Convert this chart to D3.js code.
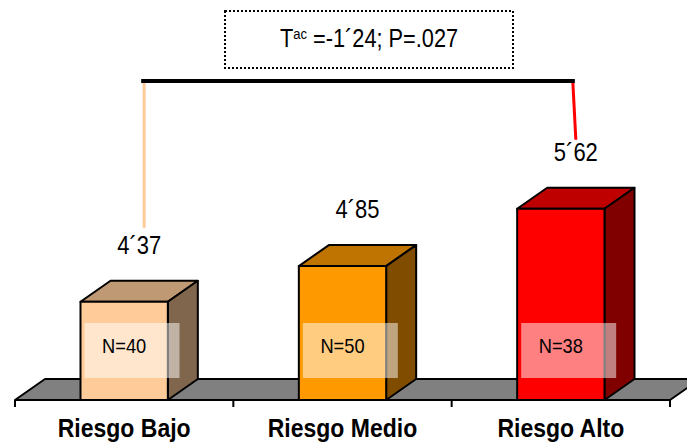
<!DOCTYPE html>
<html>
<head>
<meta charset="utf-8">
<script src="https://cdn.jsdelivr.net/npm/d3@7/dist/d3.min.js"></script>
<style>
  html, body { margin: 0; padding: 0; background: #fff; }
  svg { display: block; font-family: "Liberation Sans", Arial, sans-serif; }
</style>
</head>
<body>
<svg id="chart" width="687" height="443"></svg>
<script>
// Chart data
const categories = ["Riesgo Bajo", "Riesgo Medio", "Riesgo Alto"];
const means = [4.37, 4.85, 5.62];
const meanLabels = ["4´37", "4´85", "5´62"];
const sampleSizes = [40, 50, 38];
const frontColors = ["#FFCC99", "#FF9900", "#FF0000"];
const testLabel = { stat: "T", sup: "ac", rest: " =-1´24; P=.027" };

const svg = d3.select("#chart");

// 3D depth offset for bars and floor
const depthX = 30, depthY = -21;

// Category bands span the floor front edge
const x = d3.scaleBand().domain(categories).range([15, 670]).paddingInner(0).paddingOuter(0);
const barW = x.bandwidth() * 0.4;
const barLeft = c => x(c) + (x.bandwidth() - barW) / 2;
const barCenter = c => x(c) + x.bandwidth() / 2;

// Value axis (floor front edge sits at the axis minimum)
const y = d3.scaleLinear().domain([3.05, 6]).range([400, 180.5]);
const yFloor = y(y.domain()[0]);

const shade = (col, k) => {
  const c = d3.rgb(col);
  return d3.rgb(c.r * k, c.g * k, c.b * k).formatHex();
};
const pts = arr => arr.map(p => p.join(",")).join(" ");

// Floor
const x0 = x.range()[0], x1 = x.range()[1];
svg.append("polygon")
  .attr("points", pts([[x0, yFloor], [x1, yFloor], [x1 + depthX, yFloor + depthY], [x0 + depthX, yFloor + depthY]]))
  .attr("fill", "#808080")
  .attr("stroke", "#000")
  .attr("stroke-width", 2)
  .attr("stroke-linejoin", "round");

// Category boundary ticks
const tickXs = categories.map(c => x(c)).concat([x1]);
svg.selectAll("line.tick").data(tickXs).join("line")
  .attr("class", "tick")
  .attr("x1", d => d).attr("x2", d => d)
  .attr("y1", yFloor).attr("y2", yFloor + 7)
  .attr("stroke", "#000").attr("stroke-width", 2);

// Bars
const data = categories.map((c, i) => ({ c, v: means[i], label: meanLabels[i], n: sampleSizes[i], col: frontColors[i] }));
const bars = svg.selectAll("g.bar").data(data).join("g").attr("class", "bar");

bars.each(function(d) {
  const g = d3.select(this);
  const l = barLeft(d.c), r = l + barW, t = y(d.v), b = yFloor;
  // top face
  g.append("polygon")
    .attr("points", pts([[l, t], [r, t], [r + depthX, t + depthY], [l + depthX, t + depthY]]))
    .attr("fill", shade(d.col, 0.75));
  // side face
  g.append("polygon")
    .attr("points", pts([[r, t], [r + depthX, t + depthY], [r + depthX, b + depthY], [r, b]]))
    .attr("fill", shade(d.col, 0.5));
  // front face
  g.append("rect")
    .attr("x", l).attr("y", t).attr("width", barW).attr("height", b - t)
    .attr("fill", d.col);
  // outlines
  g.selectAll("polygon, rect")
    .attr("stroke", "#000").attr("stroke-width", 2).attr("stroke-linejoin", "round");

  // sample size tag
  g.append("rect")
    .attr("x", l + 4).attr("y", 323).attr("width", 95).attr("height", 55)
    .attr("fill", "#fff").attr("fill-opacity", 0.5);
  g.append("g")
    .attr("transform", `translate(${barCenter(d.c)},353) scale(0.87,1)`)
    .append("text")
    .attr("text-anchor", "middle")
    .attr("font-size", 21)
    .attr("fill", "#000")
    .text("N=" + d.n);

  // mean value label
  g.append("g")
    .attr("transform", `translate(${barCenter(d.c) + depthX / 2},${t + depthY - 27}) scale(0.88,1)`)
    .append("text")
    .attr("text-anchor", "middle")
    .attr("font-size", 25)
    .attr("fill", "#000")
    .text(d.label);
});

// Category labels
svg.selectAll("g.cat").data(categories).join("g")
  .attr("class", "cat")
  .attr("transform", d => `translate(${barCenter(d)},437) scale(0.92,1)`)
  .append("text")
  .attr("text-anchor", "middle")
  .attr("font-size", 25)
  .attr("font-weight", "bold")
  .attr("fill", "#000")
  .text(d => d);

// Significance bracket between low and high risk groups
const bracketY = 81;
const lowX = barCenter(categories[0]) + depthX / 2 + 5;
const highX = barCenter(categories[2]) + depthX / 2;
const lowTop = y(means[0]) + depthY - 27 - 26;
const highTop = y(means[2]) + depthY - 27 - 21;

svg.append("line")
  .attr("x1", lowX).attr("y1", bracketY + 1).attr("x2", lowX).attr("y2", lowTop)
  .attr("stroke", frontColors[0]).attr("stroke-width", 3);
svg.append("line")
  .attr("x1", highX - 3).attr("y1", bracketY + 1).attr("x2", highX).attr("y2", highTop)
  .attr("stroke", frontColors[2]).attr("stroke-width", 3);
svg.append("line")
  .attr("x1", lowX - 3).attr("y1", bracketY).attr("x2", highX - 1).attr("y2", bracketY)
  .attr("stroke", "#000").attr("stroke-width", 4);

// Test statistic box
svg.append("rect")
  .attr("x", 225).attr("y", 11).attr("width", 288).attr("height", 57)
  .attr("fill", "#fff")
  .attr("stroke", "#000").attr("stroke-width", 2)
  .attr("stroke-dasharray", "2,2");

const statText = svg.append("g")
  .attr("transform", "translate(369,47) scale(0.87,1)")
  .append("text")
  .attr("text-anchor", "middle")
  .attr("font-size", 25)
  .attr("fill", "#000");
statText.append("tspan").text(testLabel.stat);
statText.append("tspan").attr("font-size", 15).attr("dy", -8).text(testLabel.sup);
statText.append("tspan").attr("dy", 8).text(testLabel.rest);
</script>
</body>
</html>
